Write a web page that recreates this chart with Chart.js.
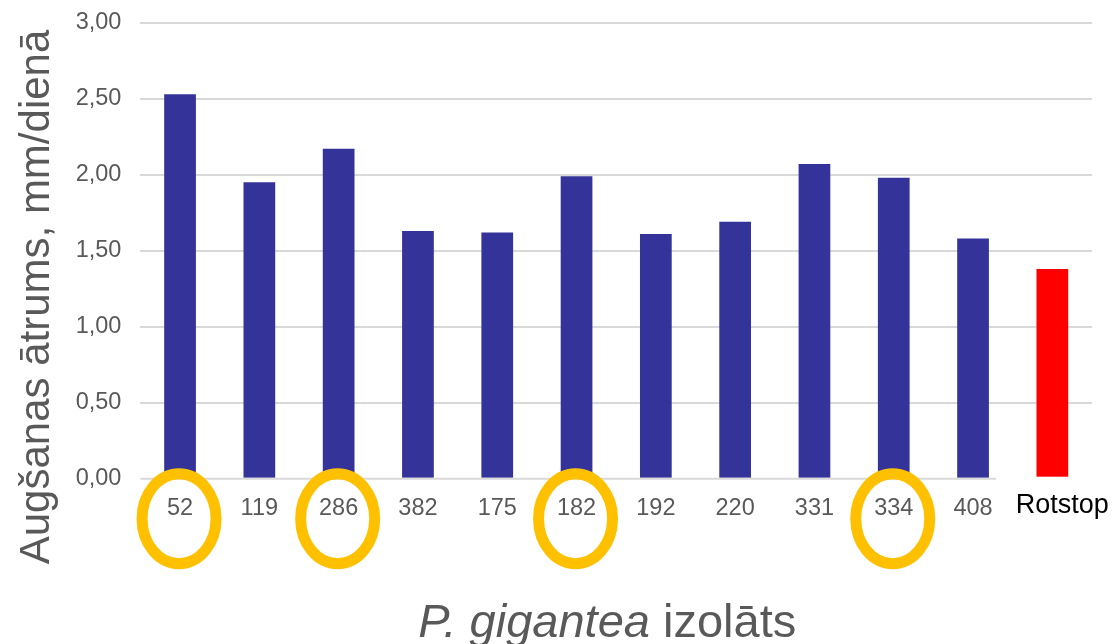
<!DOCTYPE html>
<html>
<head>
<meta charset="utf-8">
<script src="https://cdn.jsdelivr.net/npm/chart.js@4/dist/chart.umd.min.js"></script>
<style>
  html, body { margin: 0; padding: 0; background: #fff; }
  canvas { display: block; }
</style>
</head>
<body>
<canvas id="c" width="1115" height="644"></canvas>
<script>
// Isolates of P. gigantea and the Rotstop reference product
const categories = ['52', '119', '286', '382', '175', '182', '192', '220', '331', '334', '408', 'Rotstop'];
// Growth rate, mm per day
const growthRates = [2.53, 1.95, 2.17, 1.63, 1.62, 1.99, 1.61, 1.69, 2.07, 1.98, 1.58, 1.38];
// Isolates marked with a ring under the axis
const circledIsolates = ['52', '286', '182', '334'];
const referenceName = 'Rotstop';

const yTitle = 'Augšanas ātrums, mm/dienā';
const xTitleItalic = 'P. gigantea';
const xTitleRest = ' izolāts';

const FONT = '"Liberation Sans", Arial, sans-serif';
const GREY = '#595959';

const barColors = categories.map(c => c === referenceName ? '#FF0000' : '#333399');

// Axis titles, baseline, reference label and rings under highlighted isolates
const decorations = {
  id: 'decorations',
  afterDatasetsDraw(chart) {
    const { ctx, chartArea: a, scales: { x, y } } = chart;
    const y0 = y.getPixelForValue(0);
    const refIdx = categories.indexOf(referenceName);
    const xLeftRef = x.getPixelForValue(refIdx - 1);
    const xRef = x.getPixelForValue(refIdx);
    const lineEnd = xLeftRef + (xRef - xLeftRef) * 0.29;

    ctx.save();
    // label box of the reference product covers the foot of its bar
    ctx.fillStyle = '#ffffff';
    ctx.fillRect(lineEnd, y0 - 2, chart.width - lineEnd, 5);

    // reference product label, set in its own box a little to the right
    ctx.fillStyle = '#000000';
    ctx.font = '27px ' + FONT;
    ctx.textAlign = 'center';
    ctx.textBaseline = 'middle';
    ctx.fillText(referenceName, xRef + 10, y0 + 27);

    // category axis line
    ctx.strokeStyle = '#d9d9d9';
    ctx.lineWidth = 2;
    ctx.beginPath();
    ctx.moveTo(a.left, y0);
    ctx.lineTo(lineEnd, y0);
    ctx.stroke();

    // rings
    ctx.strokeStyle = '#FFC000';
    ctx.lineWidth = 11;
    circledIsolates.forEach(name => {
      const i = categories.indexOf(name);
      const cx = x.getPixelForValue(i) - 1;
      ctx.beginPath();
      ctx.ellipse(cx, y0 + 40, 37, 45, 0, 0, Math.PI * 2);
      ctx.stroke();
    });
    ctx.restore();
  },
  afterDraw(chart) {
    const { ctx, chartArea: a } = chart;
    ctx.save();
    ctx.fillStyle = GREY;

    // y axis title
    ctx.save();
    ctx.translate(37, 297);
    ctx.rotate(-Math.PI / 2);
    ctx.font = '42px ' + FONT;
    ctx.textAlign = 'center';
    ctx.textBaseline = 'middle';
    ctx.fillText(yTitle, 0, 0);
    ctx.restore();

    // x axis title, genus and species in italics
    const fItal = 'italic 47px ' + FONT;
    const fNorm = '47px ' + FONT;
    ctx.font = fItal;
    const w1 = ctx.measureText(xTitleItalic).width;
    ctx.font = fNorm;
    const w2 = ctx.measureText(xTitleRest).width;
    const cx = (a.left + a.right) / 2 - 9;
    let sx = cx - (w1 + w2) / 2;
    ctx.textAlign = 'left';
    ctx.textBaseline = 'alphabetic';
    ctx.font = fItal;
    ctx.fillText(xTitleItalic, sx, 637);
    ctx.font = fNorm;
    ctx.fillText(xTitleRest, sx + w1, 637);
    ctx.restore();
  }
};

new Chart(document.getElementById('c'), {
  type: 'bar',
  data: {
    labels: categories,
    datasets: [{
      data: growthRates,
      backgroundColor: barColors,
      borderWidth: 0,
      barPercentage: 0.4,
      categoryPercentage: 1.0
    }]
  },
  options: {
    responsive: false,
    animation: false,
    devicePixelRatio: 1,
    layout: { padding: { left: 0, right: 23, top: 22.7, bottom: 0 } },
    plugins: {
      legend: { display: false },
      tooltip: { enabled: false },
      title: { display: false }
    },
    scales: {
      x: {
        offset: true,
        grid: { display: false, drawTicks: false },
        border: { display: false },
        ticks: {
          autoSkip: false,
          maxRotation: 0,
          minRotation: 0,
          padding: 16,
          color: GREY,
          font: { family: FONT, size: 23.5 },
          // the reference product is labelled separately
          callback: function (v, i) {
            const name = this.getLabelForValue(v);
            return name === referenceName ? '' : name;
          }
        },
        afterFit(scale) {
          scale.height = 165.3;
          scale.paddingTop = 0;
          scale.paddingBottom = 0;
        }
      },
      y: {
        min: 0,
        max: 3,
        grid: {
          color: ctx => ctx.tick && ctx.tick.value === 0 ? 'rgba(0,0,0,0)' : '#d9d9d9',
          lineWidth: 2,
          drawTicks: false
        },
        border: { display: false },
        ticks: {
          stepSize: 0.5,
          padding: 19,
          color: GREY,
          font: { family: FONT, size: 23.5 },
          callback: v => Number(v).toFixed(2).replace('.', ',')
        },
        afterFit(scale) {
          scale.width = 140.4;
          scale.paddingTop = 0;
          scale.paddingBottom = 0;
        }
      }
    }
  },
  plugins: [decorations]
});
</script>
</body>
</html>
